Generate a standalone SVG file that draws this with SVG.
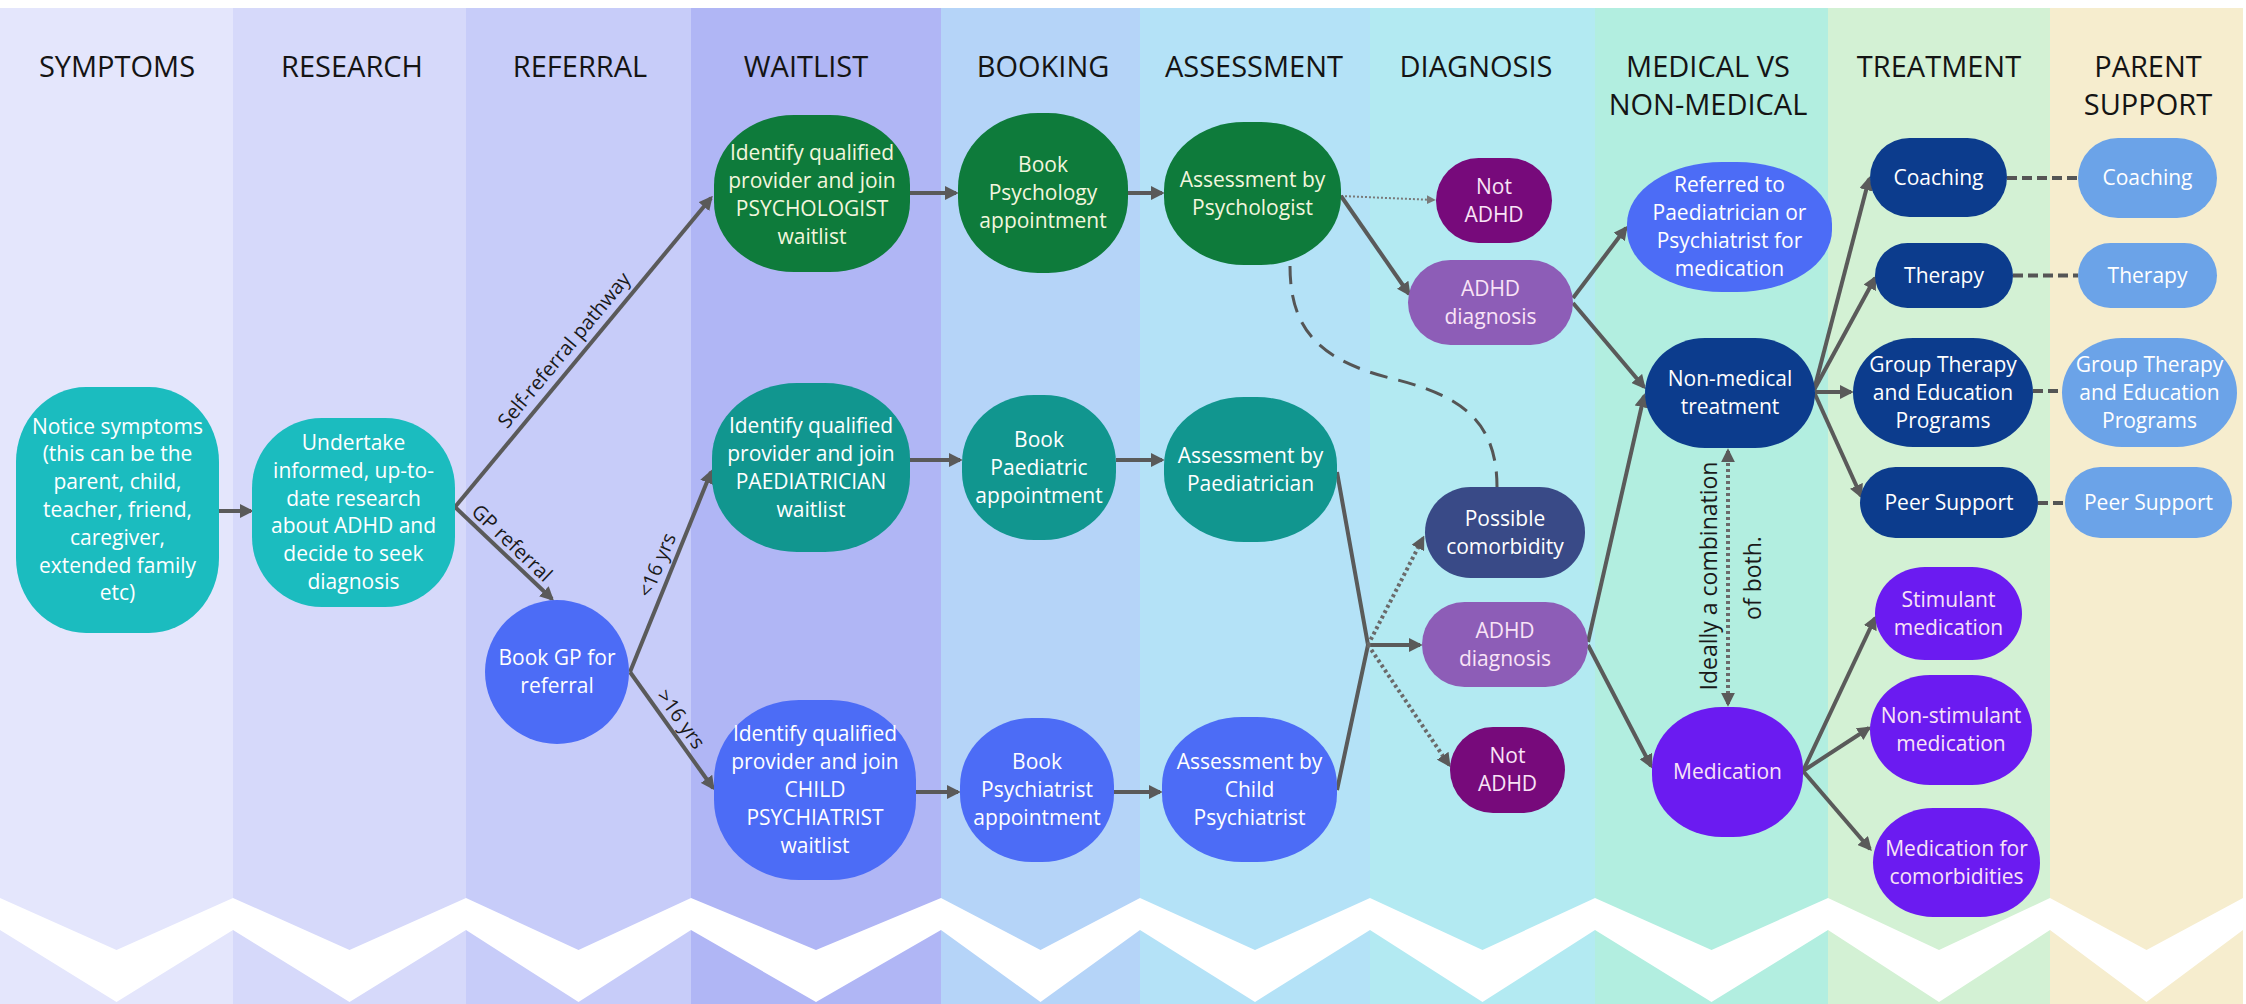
<svg xmlns="http://www.w3.org/2000/svg" width="2246" height="1004" viewBox="0 0 2246 1004">
<defs>
<style>
.hdr{font-family:"Open Sans","Liberation Sans",sans-serif;font-size:29px;fill:#141414;text-anchor:middle}
.t{font-family:"Open Sans","Liberation Sans",sans-serif;font-size:21px;text-anchor:middle;fill:#ffffff}
.tg{fill:#F2F6DE}
.tp{fill:#F9E3F6}
.lbl{font-family:"Open Sans","Liberation Sans",sans-serif;font-size:20px;fill:#1a1a1a;text-anchor:middle}
.rot{font-family:"Open Sans","Liberation Sans",sans-serif;font-size:23px;fill:#1a1a1a;text-anchor:middle}
.e{fill:none;stroke:#5a5a5a;stroke-width:4}
.dot{fill:none;stroke:#6a6a6a;stroke-width:4;stroke-dasharray:3 3}
.thin{fill:none;stroke:#7a7a7a;stroke-width:2;stroke-dasharray:2 2}
.dash{fill:none;stroke:#555555;stroke-width:3;stroke-dasharray:18 11}
.pd{fill:none;stroke:#555555;stroke-width:4;stroke-dasharray:10 5}
.teal{fill:#1BBCBF}
.green{fill:#0E7B3B}
.dteal{fill:#11968F}
.blue{fill:#4C6CF6}
.notadhd{fill:#770A7B}
.adhd{fill:#8D5DB7}
.comorb{fill:#394A87}
.navy{fill:#0C3C8D}
.violet{fill:#6B1BF1}
.parent{fill:#6BA3E8}
</style>
<marker id="ah" viewBox="0 0 10 10" refX="8" refY="5" markerWidth="14" markerHeight="14" markerUnits="userSpaceOnUse" orient="auto-start-reverse"><path d="M0,0 L10,5 L0,10 z" fill="#5a5a5a"/></marker>
<marker id="ahs" viewBox="0 0 10 10" refX="8" refY="5" markerWidth="9" markerHeight="9" markerUnits="userSpaceOnUse" orient="auto"><path d="M0,0 L10,5 L0,10 z" fill="#7a7a7a"/></marker>
</defs>
<rect width="2246" height="1004" fill="#ffffff"/>
<g id="columns">
<rect x="0" y="8" width="233" height="996" fill="#E4E6FC"/>
<rect x="233" y="8" width="233" height="996" fill="#D6D9FA"/>
<rect x="466" y="8" width="225" height="996" fill="#C7CCF9"/>
<rect x="691" y="8" width="250" height="996" fill="#B0B6F5"/>
<rect x="941" y="8" width="199" height="996" fill="#B5D4F8"/>
<rect x="1140" y="8" width="230" height="996" fill="#B4E2F7"/>
<rect x="1370" y="8" width="225" height="996" fill="#B3EAF2"/>
<rect x="1595" y="8" width="233" height="996" fill="#B2EEE0"/>
<rect x="1828" y="8" width="222" height="996" fill="#D3F1D4"/>
<rect x="2050" y="8" width="193" height="996" fill="#F6EDCE"/>
<polygon fill="#ffffff" points="0,898 116.5,950 233,898 349.5,950 466,898 578.5,950 691,898 816,950 941,898 1040.5,950 1140,898 1255,950 1370,898 1482.5,950 1595,898 1711.5,950 1828,898 1939,950 2050,898 2146.5,950 2243,898 2246,898 2246,930 2243,930 2146.5,1002 2050,930 1939,1002 1828,930 1711.5,1002 1595,930 1482.5,1002 1370,930 1255,1002 1140,930 1040.5,1002 941,930 816,1002 691,930 578.5,1002 466,930 349.5,1002 233,930 116.5,1002 0,930"/>
</g>
<g id="headers">
<text class="hdr" x="117" y="77">SYMPTOMS</text>
<text class="hdr" x="352" y="77">RESEARCH</text>
<text class="hdr" x="580" y="77">REFERRAL</text>
<text class="hdr" x="806" y="77">WAITLIST</text>
<text class="hdr" x="1043" y="77">BOOKING</text>
<text class="hdr" x="1254" y="77">ASSESSMENT</text>
<text class="hdr" x="1476" y="77">DIAGNOSIS</text>
<text class="hdr" x="1708" y="77">MEDICAL VS</text>
<text class="hdr" x="1708" y="115">NON-MEDICAL</text>
<text class="hdr" x="1939" y="77">TREATMENT</text>
<text class="hdr" x="2148" y="77">PARENT</text>
<text class="hdr" x="2148" y="115">SUPPORT</text>
</g>
<g id="connectors">
<path class="e" marker-end="url(#ah)" d="M219,511 L251,511"/>
<path class="e" marker-end="url(#ah)" d="M455,507 L711,198"/>
<path class="e" marker-end="url(#ah)" d="M455,507 L552,599"/>
<path class="e" marker-end="url(#ah)" d="M630,672 L711,472"/>
<path class="e" marker-end="url(#ah)" d="M630,672 L713,788"/>
<path class="e" marker-end="url(#ah)" d="M910,193 L956,193"/>
<path class="e" marker-end="url(#ah)" d="M1128,193 L1162,193"/>
<path class="e" marker-end="url(#ah)" d="M910,460 L960,460"/>
<path class="e" marker-end="url(#ah)" d="M1116,460 L1162,460"/>
<path class="e" marker-end="url(#ah)" d="M916,792 L958,792"/>
<path class="e" marker-end="url(#ah)" d="M1114,792 L1160,792"/>
<path class="thin" marker-end="url(#ahs)" d="M1341,196 L1434,200"/>
<path class="e" marker-end="url(#ah)" d="M1341,196 L1409,294"/>
<path class="dash" d="M1290,266 C1290,330 1320,360 1390,378 C1460,395 1497,420 1497,487"/>
<path class="e" d="M1337,472 L1368,645 L1337,790"/>
<path class="e" marker-end="url(#ah)" d="M1368,645 L1420,645"/>
<path class="dot" marker-end="url(#ah)" d="M1368,645 L1423,538"/>
<path class="dot" marker-end="url(#ah)" d="M1368,645 L1449,765"/>
<path class="e" marker-end="url(#ah)" d="M1573,298 L1626,228"/>
<path class="e" marker-end="url(#ah)" d="M1573,303 L1644,387"/>
<path class="e" marker-end="url(#ah)" d="M1588,642 L1644,396"/>
<path class="e" marker-end="url(#ah)" d="M1588,645 L1651,766"/>
<path class="dot" marker-start="url(#ah)" marker-end="url(#ah)" d="M1728,451 L1728,704"/>
<path class="e" marker-end="url(#ah)" d="M1814,390 L1869,179"/>
<path class="e" marker-end="url(#ah)" d="M1814,390 L1875,278"/>
<path class="e" marker-end="url(#ah)" d="M1815,392 L1851,392"/>
<path class="e" marker-end="url(#ah)" d="M1814,392 L1861,496"/>
<path class="e" marker-end="url(#ah)" d="M1803,771 L1875,618"/>
<path class="e" marker-end="url(#ah)" d="M1803,771 L1869,728"/>
<path class="e" marker-end="url(#ah)" d="M1803,771 L1870,849"/>
<path class="pd" d="M2007,178 L2078,178"/>
<path class="pd" d="M2013,275.5 L2078,275.5"/>
<path class="pd" d="M2033,391 L2062,391"/>
<path class="pd" d="M2038,503 L2065,503"/>
</g>
<g id="edge-labels">
<text class="lbl" transform="translate(564,350) rotate(-50.3)" y="7">Self-referral pathway</text>
<text class="lbl" transform="translate(512,543) rotate(43.5)" y="7">GP referral</text>
<text class="lbl" transform="translate(657,565) rotate(-67.4)" y="7">&lt;16 yrs</text>
<text class="lbl" transform="translate(681,719) rotate(54.4)" y="7">&gt;16 yrs</text>
<text class="rot" transform="translate(1717,576) rotate(-90)">Ideally a combination</text>
<text class="rot" transform="translate(1761,578) rotate(-90)">of both.</text>
</g>
<g id="n-notice">
<rect class="teal" x="16" y="387" width="203" height="246" rx="70" ry="75"/>
<text class="t"><tspan x="117.5" y="433.6">Notice symptoms</tspan><tspan x="117.5" y="461.4">(this can be the</tspan><tspan x="117.5" y="489.2">parent, child,</tspan><tspan x="117.5" y="517">teacher, friend,</tspan><tspan x="117.5" y="544.8">caregiver,</tspan><tspan x="117.5" y="572.6">extended family</tspan><tspan x="117.5" y="600.4">etc)</tspan></text>
</g>
<g id="n-research">
<rect class="teal" x="252" y="418" width="203" height="189" rx="70" ry="70"/>
<text class="t"><tspan x="353.5" y="450">Undertake</tspan><tspan x="353.5" y="477.8">informed, up-to-</tspan><tspan x="353.5" y="505.6">date research</tspan><tspan x="353.5" y="533.4">about ADHD and</tspan><tspan x="353.5" y="561.2">decide to seek</tspan><tspan x="353.5" y="589">diagnosis</tspan></text>
</g>
<g id="n-bookgp">
<circle class="blue" cx="557" cy="672" r="72"/>
<text class="t"><tspan x="557" y="665">Book GP for</tspan><tspan x="557" y="693">referral</tspan></text>
</g>
<g id="n-psych-wait">
<rect class="green" x="714" y="115" width="196" height="157" rx="80" ry="70"/>
<text class="t tg"><tspan x="812" y="160">Identify qualified</tspan><tspan x="812" y="188">provider and join</tspan><tspan x="812" y="216">PSYCHOLOGIST</tspan><tspan x="812" y="244">waitlist</tspan></text>
</g>
<g id="n-book-psych">
<rect class="green" x="958" y="113" width="170" height="160" rx="80" ry="75"/>
<text class="t tg"><tspan x="1043" y="172">Book</tspan><tspan x="1043" y="200">Psychology</tspan><tspan x="1043" y="228">appointment</tspan></text>
</g>
<g id="n-assess-psych">
<rect class="green" x="1164" y="122" width="177" height="143" rx="80" ry="68"/>
<text class="t tg"><tspan x="1252.5" y="187">Assessment by</tspan><tspan x="1252.5" y="215">Psychologist</tspan></text>
</g>
<g id="n-paed-wait">
<rect class="dteal" x="712" y="383" width="198" height="169" rx="85" ry="75"/>
<text class="t"><tspan x="811" y="432.5">Identify qualified</tspan><tspan x="811" y="460.5">provider and join</tspan><tspan x="811" y="488.5">PAEDIATRICIAN</tspan><tspan x="811" y="516.5">waitlist</tspan></text>
</g>
<g id="n-book-paed">
<rect class="dteal" x="962" y="395" width="154" height="145" rx="72" ry="68"/>
<text class="t"><tspan x="1039" y="446.5">Book</tspan><tspan x="1039" y="474.5">Paediatric</tspan><tspan x="1039" y="502.5">appointment</tspan></text>
</g>
<g id="n-assess-paed">
<rect class="dteal" x="1164" y="397" width="173" height="145" rx="80" ry="68"/>
<text class="t"><tspan x="1250.5" y="462.5">Assessment by</tspan><tspan x="1250.5" y="490.5">Paediatrician</tspan></text>
</g>
<g id="n-child-wait">
<rect class="blue" x="714" y="700" width="202" height="180" rx="85" ry="80"/>
<text class="t"><tspan x="815" y="741">Identify qualified</tspan><tspan x="815" y="769">provider and join</tspan><tspan x="815" y="797">CHILD</tspan><tspan x="815" y="825">PSYCHIATRIST</tspan><tspan x="815" y="853">waitlist</tspan></text>
</g>
<g id="n-book-psychiatrist">
<rect class="blue" x="960" y="718" width="154" height="144" rx="72" ry="68"/>
<text class="t"><tspan x="1037" y="769">Book</tspan><tspan x="1037" y="797">Psychiatrist</tspan><tspan x="1037" y="825">appointment</tspan></text>
</g>
<g id="n-assess-child">
<rect class="blue" x="1162" y="717" width="175" height="145" rx="80" ry="68"/>
<text class="t"><tspan x="1249.5" y="768.5">Assessment by</tspan><tspan x="1249.5" y="796.5">Child</tspan><tspan x="1249.5" y="824.5">Psychiatrist</tspan></text>
</g>
<g id="n-notadhd1">
<rect class="notadhd" x="1436" y="158" width="116" height="85" rx="42.5"/>
<text class="t tp"><tspan x="1494" y="193.5">Not</tspan><tspan x="1494" y="221.5">ADHD</tspan></text>
</g>
<g id="n-adhd1">
<rect class="adhd" x="1408" y="260" width="165" height="85" rx="42.5"/>
<text class="t tp"><tspan x="1490.5" y="295.5">ADHD</tspan><tspan x="1490.5" y="323.5">diagnosis</tspan></text>
</g>
<g id="n-comorb">
<rect class="comorb" x="1425" y="487" width="160" height="91" rx="45.5"/>
<text class="t"><tspan x="1505" y="525.5">Possible</tspan><tspan x="1505" y="553.5">comorbidity</tspan></text>
</g>
<g id="n-adhd2">
<rect class="adhd" x="1422" y="602" width="166" height="85" rx="42.5"/>
<text class="t tp"><tspan x="1505" y="637.5">ADHD</tspan><tspan x="1505" y="665.5">diagnosis</tspan></text>
</g>
<g id="n-notadhd2">
<rect class="notadhd" x="1450" y="727" width="115" height="86" rx="43"/>
<text class="t tp"><tspan x="1507.5" y="763">Not</tspan><tspan x="1507.5" y="791">ADHD</tspan></text>
</g>
<g id="n-referred">
<rect class="blue" x="1627" y="162" width="205" height="130" rx="95" ry="62"/>
<text class="t"><tspan x="1729.5" y="192">Referred to</tspan><tspan x="1729.5" y="220">Paediatrician or</tspan><tspan x="1729.5" y="248">Psychiatrist for</tspan><tspan x="1729.5" y="276">medication</tspan></text>
</g>
<g id="n-nonmed">
<rect class="navy" x="1645" y="338" width="170" height="110" rx="60" ry="55"/>
<text class="t"><tspan x="1730" y="386">Non-medical</tspan><tspan x="1730" y="414">treatment</tspan></text>
</g>
<g id="n-medication">
<rect class="violet" x="1652" y="707" width="151" height="130" rx="70" ry="62"/>
<text class="t tp" x="1727.5" y="779">Medication</text>
</g>
<g id="n-coaching">
<rect class="navy" x="1870" y="138" width="137" height="79" rx="39.5"/>
<text class="t" x="1938.5" y="184.5">Coaching</text>
</g>
<g id="n-therapy">
<rect class="navy" x="1875" y="243" width="138" height="65" rx="32.5"/>
<text class="t" x="1944" y="282.5">Therapy</text>
</g>
<g id="n-group">
<rect class="navy" x="1853" y="338" width="180" height="109" rx="60" ry="54.5"/>
<text class="t"><tspan x="1943" y="371.5">Group Therapy</tspan><tspan x="1943" y="399.5">and Education</tspan><tspan x="1943" y="427.5">Programs</tspan></text>
</g>
<g id="n-peer">
<rect class="navy" x="1860" y="467" width="178" height="71" rx="35.5"/>
<text class="t" x="1949" y="509.5">Peer Support</text>
</g>
<g id="n-stim">
<rect class="violet" x="1875" y="567" width="147" height="93" rx="50" ry="46.5"/>
<text class="t tp"><tspan x="1948.5" y="606.5">Stimulant</tspan><tspan x="1948.5" y="634.5">medication</tspan></text>
</g>
<g id="n-nonstim">
<rect class="violet" x="1870" y="675" width="162" height="110" rx="60" ry="55"/>
<text class="t tp"><tspan x="1951" y="723">Non-stimulant</tspan><tspan x="1951" y="751">medication</tspan></text>
</g>
<g id="n-medcomorb">
<rect class="violet" x="1873" y="808" width="167" height="109" rx="60" ry="54.5"/>
<text class="t tp"><tspan x="1956.5" y="855.5">Medication for</tspan><tspan x="1956.5" y="883.5">comorbidities</tspan></text>
</g>
<g id="p-coaching">
<rect class="parent" x="2078" y="138" width="139" height="80" rx="40"/>
<text class="t" x="2147.5" y="185">Coaching</text>
</g>
<g id="p-therapy">
<rect class="parent" x="2078" y="243" width="139" height="65" rx="32.5"/>
<text class="t" x="2147.5" y="282.5">Therapy</text>
</g>
<g id="p-group">
<rect class="parent" x="2062" y="338" width="175" height="109" rx="60" ry="54.5"/>
<text class="t"><tspan x="2149.5" y="371.5">Group Therapy</tspan><tspan x="2149.5" y="399.5">and Education</tspan><tspan x="2149.5" y="427.5">Programs</tspan></text>
</g>
<g id="p-peer">
<rect class="parent" x="2065" y="467" width="167" height="71" rx="35.5"/>
<text class="t" x="2148.5" y="509.5">Peer Support</text>
</g>
</svg>
